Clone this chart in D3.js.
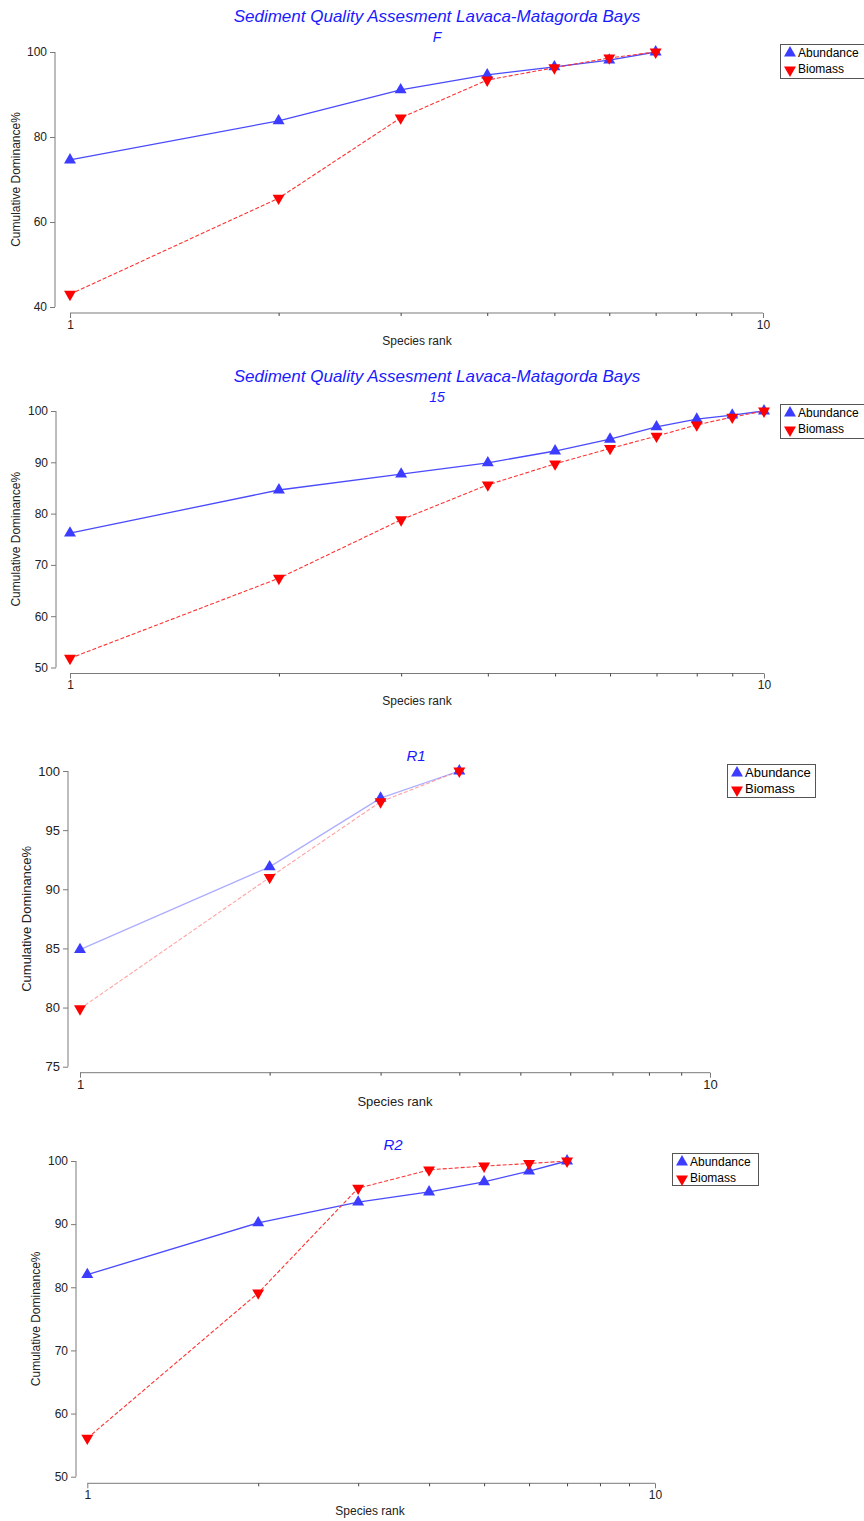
<!DOCTYPE html>
<html><head><meta charset="utf-8">
<script src="https://cdn.jsdelivr.net/npm/d3@7"></script>
<style>
body{margin:0;background:#fff;}
svg{display:block;font-family:"Liberation Sans",Arial,sans-serif;}
</style></head>
<body>
<svg id="c" width="864" height="1521"></svg>
<script>
// ---- data ----
const mainTitle = "Sediment Quality Assesment Lavaca-Matagorda Bays";
const panelNames = ["F", "15", "R1", "R2"];
const seriesNames = ["Abundance", "Biomass"];

const ranksF = [1,2,3,4,5,6,7];
const abundF = [74.6, 83.8, 91.1, 94.6, 96.5, 98.1, 100];
const biomF  = [43.0, 65.6, 84.5, 93.4, 96.3, 98.6, 100];

const ranks15 = [1,2,3,4,5,6,7,8,9,10];
const abund15 = [76.2, 84.6, 87.7, 89.9, 92.2, 94.5, 96.9, 98.4, 99.2, 100];
const biom15  = [51.8, 67.4, 78.8, 85.6, 89.7, 92.7, 95.1, 97.3, 98.8, 100];

const ranksR1 = [1,2,3,4];
const abundR1 = [84.9, 91.9, 97.7, 100];
const biomR1  = [79.9, 91.0, 97.4, 100];

const ranksR2 = [1,2,3,4,5,6,7];
const abundR2 = [82.0, 90.2, 93.5, 95.1, 96.7, 98.4, 100];
const biomR2  = [56.1, 79.1, 95.7, 98.6, 99.2, 99.6, 100];

const yTicksF  = [40, 60, 80, 100];
const yTicks15 = [50, 60, 70, 80, 90, 100];
const yTicksR1 = [75, 80, 85, 90, 95, 100];
const yTicksR2 = [50, 60, 70, 80, 90, 100];
const xTickLabels = [1, 10];
const xMinorTicks = [2,3,4,5,6,7,8,9];

// ---- layout ----
const panels = [
  {name: panelNames[0], ranks: ranksF, a: abundF, b: biomF, yTicks: yTicksF, yDom:[40,100],
   yAxisX: 55, yTop: 52, yBot: 307, xAxisY: 313, x0: 70, x1: 763, showMain: true, titleY: 22, subY: 42, titleX: 437,
   xLabY: 345, xLabX: 417, yLabX: 20, leg: [780, 44, 90, 34], alpha: 1, fs: 12, titleFs: 17},
  {name: panelNames[1], ranks: ranks15, a: abund15, b: biom15, yTicks: yTicks15, yDom:[50,100],
   yAxisX: 56, yTop: 411, yBot: 667.5, xAxisY: 673.5, x0: 70, x1: 764, showMain: true, titleY: 382, subY: 402, titleX: 437,
   xLabY: 705, xLabX: 417, yLabX: 20, leg: [780, 404, 90, 34], alpha: 1, fs: 12, titleFs: 17},
  {name: panelNames[2], ranks: ranksR1, a: abundR1, b: biomR1, yTicks: yTicksR1, yDom:[75,100],
   yAxisX: 68, yTop: 771, yBot: 1066.7, xAxisY: 1072.7, x0: 80, x1: 710, showMain: false, subY: 761, titleX: 416,
   xLabY: 1106, xLabX: 395, yLabX: 31, leg: [727, 764, 88, 33], alpha: 0.45, fs: 13, titleFs: 17},
  {name: panelNames[3], ranks: ranksR2, a: abundR2, b: biomR2, yTicks: yTicksR2, yDom:[50,100],
   yAxisX: 76, yTop: 1161, yBot: 1476.7, xAxisY: 1483.3, x0: 87.3, x1: 655, showMain: false, subY: 1150, titleX: 393,
   xLabY: 1515, xLabX: 370, yLabX: 40, leg: [672, 1153, 86, 32], alpha: 1, fs: 12, titleFs: 17}
];

const svg = d3.select("#c");
const blue = "#3c3cff", red = "#ff0000", axisCol = "#7a7a7a", txtCol = "#222";
const triUp = d3.symbol().type(d3.symbolTriangle).size(62)();

panels.forEach(p => {
  const g = svg.append("g");
  const x = d3.scaleLog().domain([1, 10]).range([p.x0, p.x1]);
  const y = d3.scaleLinear().domain(p.yDom).range([p.yBot, p.yTop]);

  // titles
  if (p.showMain) {
    g.append("text").attr("x", p.titleX).attr("y", p.titleY).attr("text-anchor", "middle")
      .attr("font-size", p.titleFs).attr("font-style", "italic").attr("fill", "#1a1aff").text(mainTitle);
  }
  g.append("text").attr("x", p.titleX).attr("y", p.subY).attr("text-anchor", "middle")
    .attr("font-size", p.showMain ? 14 : 15).attr("font-style", "italic").attr("fill", "#1a1aff").text(p.name);

  // y axis
  const yAx = g.append("g").attr("transform", `translate(${p.yAxisX},0)`)
    .call(d3.axisLeft(y).tickValues(p.yTicks).tickSize(5).tickPadding(3).tickFormat(d3.format("d")));
  yAx.select(".domain").attr("stroke", axisCol).attr("d", `M0,${p.yTop}V${p.yBot}`);
  yAx.selectAll(".tick line").attr("stroke", axisCol);
  yAx.selectAll(".tick text").attr("fill", txtCol).attr("font-size", p.fs).attr("font-family", "Liberation Sans, Arial, sans-serif");

  // x axis (log)
  const xg = g.append("g").attr("transform", `translate(0,${p.xAxisY})`);
  const xAx = xg.append("g").call(d3.axisBottom(x).tickValues(xTickLabels).tickSize(5).tickPadding(2).tickFormat(d3.format("d")));
  xAx.select(".domain").attr("stroke", axisCol).attr("d", `M${p.x0},0H${p.x1}`);
  xAx.selectAll(".tick line").attr("stroke", axisCol);
  xAx.selectAll(".tick text").attr("fill", txtCol).attr("font-size", p.fs).attr("font-family", "Liberation Sans, Arial, sans-serif");
  const xMin = xg.append("g").call(d3.axisBottom(x).tickValues(xMinorTicks).tickSize(3).tickFormat(""));
  xMin.select(".domain").remove();
  xMin.selectAll(".tick line").attr("stroke", "#444");

  // axis labels
  g.append("text").attr("x", p.xLabX).attr("y", p.xLabY).attr("text-anchor", "middle")
    .attr("font-size", p.fs).attr("fill", txtCol).text("Species rank");
  g.append("text").attr("transform", `translate(${p.yLabX},${(p.yTop + p.yBot) / 2}) rotate(-90)`)
    .attr("text-anchor", "middle").attr("font-size", p.fs).attr("fill", txtCol).text("Cumulative Dominance%");

  // lines
  const line = d3.line().x(d => x(d[0])).y(d => y(d[1]));
  const aPts = p.ranks.map((r, i) => [r, p.a[i]]);
  const bPts = p.ranks.map((r, i) => [r, p.b[i]]);
  g.append("path").attr("d", line(aPts)).attr("fill", "none").attr("stroke", "#4a4aff")
    .attr("stroke-width", 1.3).attr("stroke-opacity", p.alpha);
  g.append("path").attr("d", line(bPts)).attr("fill", "none").attr("stroke", "#ff3333")
    .attr("stroke-width", 1.1).attr("stroke-dasharray", "4,2").attr("stroke-opacity", p.alpha);

  // markers
  g.selectAll(".ma").data(aPts).join("path").attr("d", triUp)
    .attr("transform", d => `translate(${x(d[0])},${y(d[1])})`).attr("fill", blue);
  g.selectAll(".mb").data(bPts).join("path").attr("d", triUp)
    .attr("transform", d => `translate(${x(d[0])},${y(d[1])}) rotate(180)`).attr("fill", red);

  // legend
  const [lx, ly, lw, lh] = p.leg;
  const lg = g.append("g");
  lg.append("rect").attr("x", lx + 0.5).attr("y", ly + 0.5).attr("width", lw).attr("height", lh)
    .attr("fill", "#fff").attr("stroke", "#555").attr("stroke-width", 1);
  seriesNames.forEach((s, i) => {
    const cy = ly + 9 + i * 16;
    lg.append("path").attr("d", triUp)
      .attr("transform", `translate(${lx + 10},${cy + (i ? 1 : 0)})${i ? " rotate(180)" : ""}`)
      .attr("fill", i ? red : blue);
    lg.append("text").attr("x", lx + 18).attr("y", cy + 4).attr("font-size", p.fs).attr("fill", "#000").text(s);
  });
});
</script>
</body></html>
